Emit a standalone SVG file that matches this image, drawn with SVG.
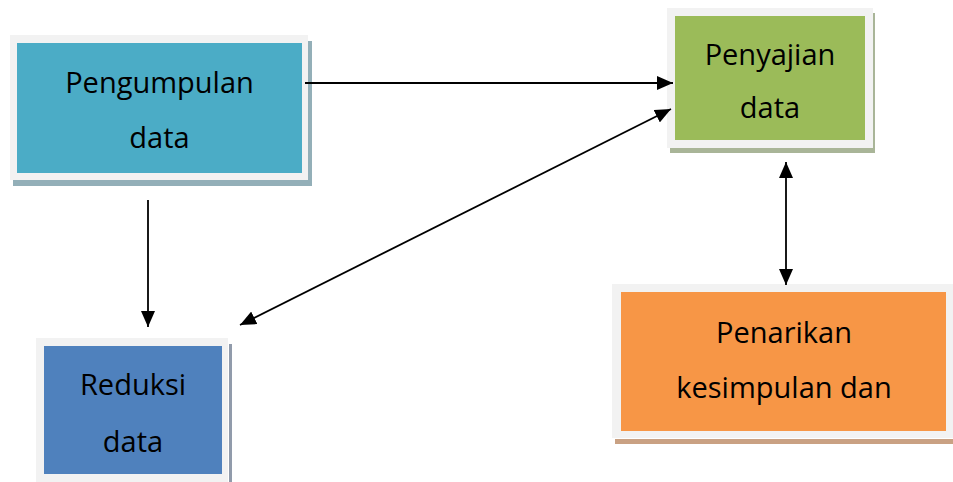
<svg xmlns="http://www.w3.org/2000/svg" width="953" height="482" viewBox="0 0 953 482">
<style>
.frame{fill:#F2F2F2}
.lbl{font-family:"Open Sans","Noto Sans","DejaVu Sans",sans-serif;font-size:29px;fill:#000;text-anchor:middle}
.conn{stroke:#000;stroke-width:1.8;fill:none}
</style>
<defs>
<marker id="a" viewBox="0 0 16 14" refX="16" refY="7" markerWidth="16" markerHeight="14" markerUnits="userSpaceOnUse" orient="auto-start-reverse">
<path d="M0,0 L16,7 L0,14 Z" fill="#000"/>
</marker>
</defs>
<rect width="953" height="482" fill="#fff"/>
<g id="pengumpulan">
<rect x="13" y="41" width="299" height="145" fill="#93AFB8"/>
<rect class="frame" x="10" y="35" width="298" height="145"/>
<rect x="17" y="43" width="285" height="130" fill="#4BACC6"/>
<text class="lbl" x="159.5" y="93">Pengumpulan</text>
<text class="lbl" x="159.5" y="148">data</text>
</g>
<g id="penyajian">
<rect x="670" y="13" width="205" height="140" fill="#A9B598"/>
<rect class="frame" x="667" y="8" width="206" height="140"/>
<rect x="675" y="16" width="190" height="124" fill="#9BBB59"/>
<text class="lbl" x="770" y="65">Penyajian</text>
<text class="lbl" x="770" y="118">data</text>
</g>
<g id="penarikan">
<rect x="615" y="439" width="338" height="5" fill="#C9A183"/>
<rect class="frame" x="612" y="284" width="341" height="154"/>
<rect x="621" y="292" width="325" height="139" fill="#F79646"/>
<text class="lbl" x="784" y="343">Penarikan</text>
<text class="lbl" x="784" y="398">kesimpulan dan</text>
</g>
<g id="reduksi">
<rect x="229" y="344" width="3" height="138" fill="#919BAB"/>
<rect class="frame" x="36" y="338" width="192" height="144"/>
<rect x="44" y="346" width="178" height="128" fill="#4F81BD"/>
<text class="lbl" x="133" y="395">Reduksi</text>
<text class="lbl" x="133" y="452">data</text>
</g>
<g id="connectors">
<line class="conn" x1="305" y1="83" x2="673" y2="83" marker-end="url(#a)"/>
<line class="conn" x1="240" y1="325" x2="671" y2="109" marker-start="url(#a)" marker-end="url(#a)"/>
<line class="conn" x1="148" y1="200" x2="148" y2="327" marker-end="url(#a)"/>
<line class="conn" x1="786" y1="162" x2="786" y2="285" marker-start="url(#a)" marker-end="url(#a)"/>
</g>
</svg>
